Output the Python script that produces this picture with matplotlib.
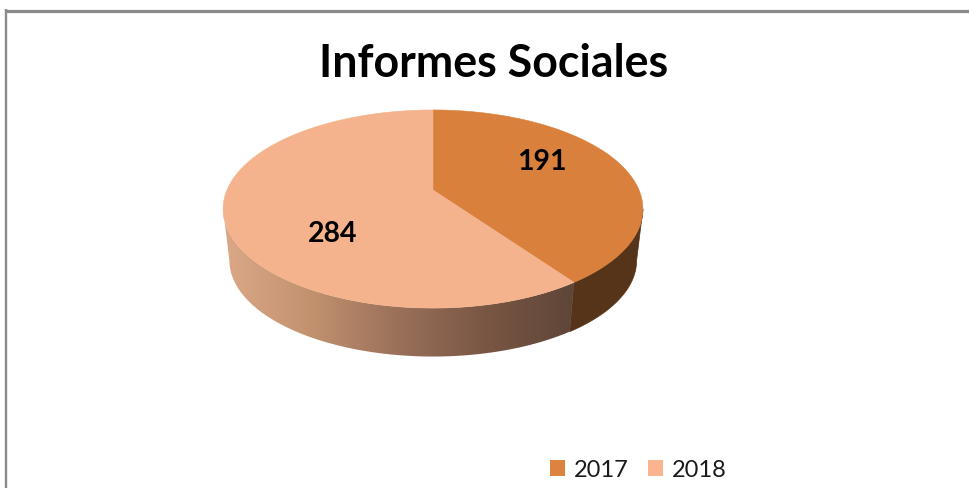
import numpy as np
import matplotlib
matplotlib.use("Agg")
import matplotlib.pyplot as plt
from matplotlib.colors import LinearSegmentedColormap
from matplotlib.patches import Patch, Polygon

title = "Informes Sociales"
years = ["2017", "2018"]
values = [191, 284]
top_colors = ["#D8803C", "#F4B38C"]
legend_colors = ["#DC843F", "#FAB48F"]
side_dark = "#56341A"
side_ramp = ["#DCA888", "#C2926F", "#9A705A", "#795644", "#5F4638"]

W, H = 969, 489
CX, CY = 433, 191
A, B, K = 206, 95.4, 0.192
DEPTH, SHRINK = 52, 0.97


def project(angle, lower=False):
    # angle is clockwise from the top, circle seen with a bit of perspective
    u, v = np.sin(angle), np.cos(angle)
    d = 1 + K * v
    x, y = A * u / d, -B * v / d
    if lower:
        return CX + x * SHRINK, CY + DEPTH + y * SHRINK
    return CX + x, CY + y


fig = plt.figure(figsize=(W / 100, H / 100), dpi=100)
ax = fig.add_axes([0, 0, 1, 1])
ax.set_xlim(0, W)
ax.set_ylim(H, 0)
ax.axis("off")

# chart frame, only top and left survive in the screenshot
ax.plot([5, W], [11.5, 11.5], color="#8A8A8A", lw=2.3, solid_capstyle="butt")
ax.plot([6, 6], [10, H], color="#8A8A8A", lw=1.7, solid_capstyle="butt")

split = 2 * np.pi * values[0] / sum(values)
edge = np.arccos(-K)  # where the outline is widest

# side of the 2017 slice, from the split round to the right edge
t = np.linspace(edge, split, 80)
x1, y1 = project(t)
x2, y2 = project(t[::-1], lower=True)
ax.add_patch(Polygon(np.r_[np.c_[x1, y1], np.c_[x2, y2]], fc=side_dark, ec=side_dark, lw=0.5))

# side of the 2018 slice with its left to right shading
t = np.linspace(split, 2 * np.pi - edge, 120)
x1, y1 = project(t)
x2, y2 = project(t[::-1], lower=True)
side = Polygon(np.r_[np.c_[x1, y1], np.c_[x2, y2]], fc="none", ec="none", transform=ax.transData)
ax.add_patch(side)
cmap = LinearSegmentedColormap.from_list("side", side_ramp)
grad = ax.imshow(np.linspace(0, 1, 256)[None, :], cmap=cmap, aspect="auto",
                 extent=[x1.min(), x1.max(), H, 0], zorder=2)
grad.set_clip_path(side)
ax.set_xlim(0, W)
ax.set_ylim(H, 0)

# top faces
starts = [0, split]
ends = [split, 2 * np.pi]
for s, e, c in zip(starts, ends, top_colors):
    t = np.linspace(s, e, 200)
    x, y = project(t)
    pts = np.r_[[[CX, CY]], np.c_[x, y]]
    ax.add_patch(Polygon(pts, fc=c, ec=c, lw=0.4, zorder=3))

ax.text(494, 64, title, fontsize=32.2, fontweight="bold", family="Lato",
        ha="center", va="center", color="black", zorder=4)
ax.text(541.5, 161.5, str(values[0]), fontsize=20.5, fontweight="bold", family="Lato",
        ha="center", va="center", color="black", zorder=4)
ax.text(333, 233.5, str(values[1]), fontsize=20.5, fontweight="bold", family="Lato",
        ha="center", va="center", color="black", zorder=4)

handles = [Patch(fc=c, ec="none") for c in legend_colors]
ax.legend(handles, years, ncol=2, frameon=False, loc="center left",
          bbox_to_anchor=(531 / W, 1 - 471 / H), bbox_transform=fig.transFigure,
          prop={"family": "Lato", "size": 17}, handlelength=0.64, handleheight=0.64,
          handletextpad=0.38, columnspacing=0.8, labelcolor="#1A1A1A", borderpad=0.3)

fig.savefig("out.png", dpi=100)
